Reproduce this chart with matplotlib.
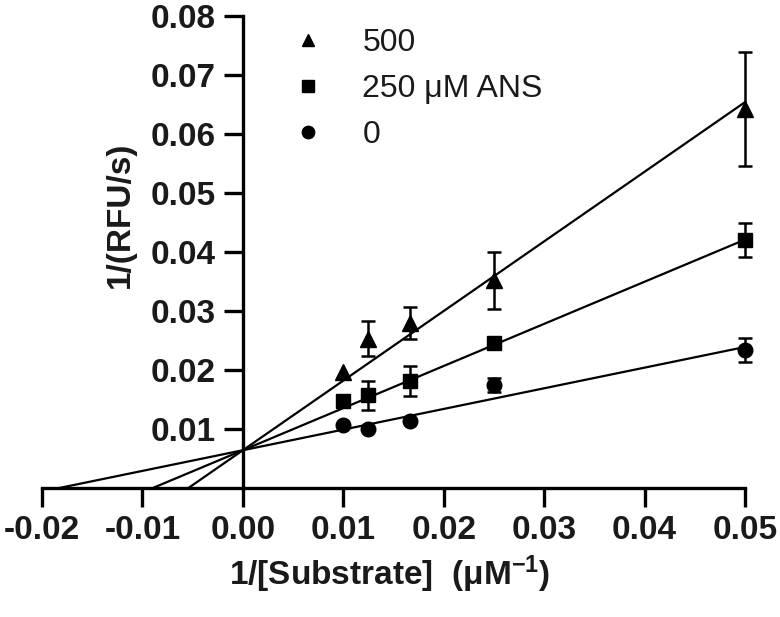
import numpy as np
import matplotlib
matplotlib.use('Agg')
import matplotlib.pyplot as plt
from matplotlib.ticker import FixedLocator, FormatStrFormatter

plt.rcParams['font.family'] = ['Liberation Sans', 'DejaVu Sans']
plt.rcParams['mathtext.fontset'] = 'custom'
plt.rcParams['mathtext.rm'] = 'Liberation Sans:bold'
plt.rcParams['mathtext.it'] = 'Liberation Sans:bold'

# 1/[S] values (uM^-1)
inv_s = [0.01, 0.0125, 0.01667, 0.025, 0.05]

# 1/(RFU/s) for each ANS concentration, with error bars
y_500 = [0.0197, 0.0253, 0.0280, 0.0352, 0.0642]
err_500 = [0, 0.0030, 0.0027, 0.0048, 0.0097]
y_250 = [0.0147, 0.0157, 0.0181, 0.0246, 0.0420]
err_250 = [0, 0.0025, 0.0025, 0, 0.0029]
y_0 = [0.0107, 0.0100, 0.0114, 0.0175, 0.0234]
err_0 = [0, 0, 0, 0.0012, 0.0020]

# fitted lines (shared y intercept)
intercept = 0.0064
slope_500 = 1.180
slope_250 = 0.714
slope_0 = 0.350

labels = ['500', '250 μM ANS', '0']
markers = ['^', 's', 'o']

fig = plt.figure(figsize=(7.8, 6.17), dpi=100)
ax = fig.add_axes([42/780, 1-488/617, 703/780, 472/617])

xl = np.array([-0.02, 0.05])
series = [(y_500, err_500, slope_500), (y_250, err_250, slope_250), (y_0, err_0, slope_0)]
for (yy, ee, sl), lab, mk in zip(series, labels, markers):
    ax.plot(xl, intercept + sl*xl, color='black', lw=1.6, zorder=2)
    xa = np.array(inv_s); ya = np.array(yy); ea = np.array(ee)
    m = ea > 0
    eb = ax.errorbar(xa[m], ya[m], yerr=ea[m], fmt='none', ecolor='black',
                     elinewidth=1.8, capsize=5, capthick=1.8, zorder=3)
    for art in eb.lines[1] + eb.lines[2]:
        art.set_clip_on(False)
    ax.plot(xa, ya, mk, color='black', ms=10.5 if mk != '^' else 11,
            ls='none', label=lab, zorder=4, clip_on=False)

ax.set_xlim(-0.02, 0.05)
ax.set_ylim(0, 0.08)
ax.spines['top'].set_visible(False)
ax.spines['right'].set_visible(False)
ax.spines['left'].set_position(('data', 0))
ax.spines['left'].set_linewidth(2.4)
ax.spines['bottom'].set_linewidth(2.4)

ax.xaxis.set_major_locator(FixedLocator([-0.02, -0.01, 0, 0.01, 0.02, 0.03, 0.04, 0.05]))
ax.yaxis.set_major_locator(FixedLocator([0.01, 0.02, 0.03, 0.04, 0.05, 0.06, 0.07, 0.08]))
ax.xaxis.set_major_formatter(FormatStrFormatter('%.2f'))
ax.yaxis.set_major_formatter(FormatStrFormatter('%.2f'))
ax.tick_params(direction='out', length=13.5, width=2.4, pad=6)
for t in ax.get_xticklabels() + ax.get_yticklabels():
    t.set_fontweight('bold')
    t.set_fontsize(24)
    t.set_color('#1a1a1a')

fig.text(120/780, 1-215/617, '1/(RFU/s)', rotation=90, ha='center', va='center',
         fontsize=24, fontweight='bold', color='#1a1a1a')
fig.text(390/780, 1-574/617, '1/[Substrate]  (μM$^{-1}$)', ha='center', va='center',
         fontsize=24, fontweight='bold', color='#1a1a1a')

leg = ax.legend(loc='upper left', bbox_to_anchor=(292/780, 1-28/617),
                bbox_transform=fig.transFigure, frameon=False, fontsize=23,
                handlelength=1.0, handletextpad=1.2, labelspacing=0.5,
                borderpad=0, borderaxespad=0, markerscale=0.85)
for t in leg.get_texts():
    t.set_color('#1a1a1a')

fig.savefig('out.png', dpi=100)
